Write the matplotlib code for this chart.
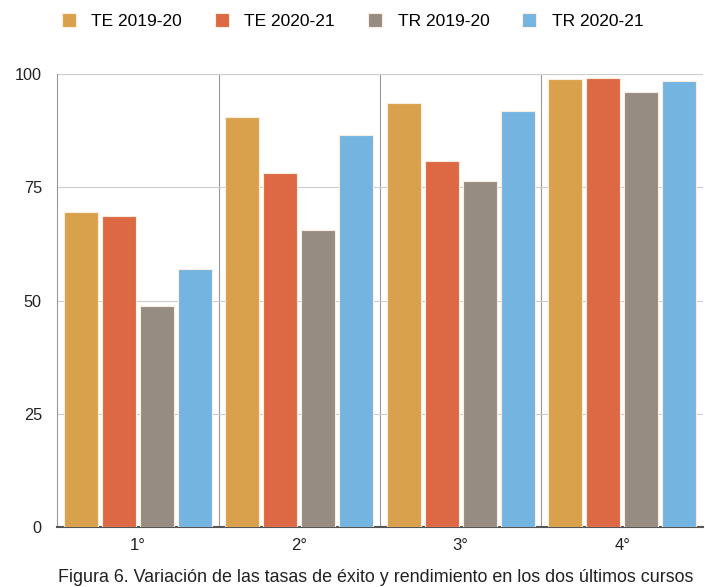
import matplotlib.pyplot as plt
import numpy as np

plt.rcParams['font.family'] = ['Liberation Sans', 'DejaVu Sans']

# datos
cursos = ['1°', '2°', '3°', '4°']
series = ['TE 2019-20', 'TE 2020-21', 'TR 2019-20', 'TR 2020-21']
te_1920 = [69.5, 90.5, 93.6, 98.9]
te_2021 = [68.6, 78.1, 80.8, 99.1]
tr_1920 = [48.8, 65.6, 76.4, 96.0]
tr_2021 = [57.0, 86.5, 91.8, 98.5]
colores = ['#D9A14C', '#DD6944', '#978C81', '#74B4E1']

valores = [te_1920, te_2021, tr_1920, tr_2021]

fig = plt.figure(figsize=(7.05, 5.87), dpi=100)
ax = fig.add_axes([0.081, 0.102, 0.916, 0.772])

x = np.arange(len(cursos))
ancho = 0.21
paso = 0.235
for i, (vals, nombre, c) in enumerate(zip(valores, series, colores)):
    ax.bar(x + (i - 1.5) * paso, vals, ancho, color=c, label=nombre,
           edgecolor='#fbeee0', linewidth=0.8, zorder=3)

ax.set_xlim(-0.5, 3.5)
ax.set_ylim(0, 100)
ax.set_yticks([0, 25, 50, 75, 100])
ax.set_xticks(x)
ax.set_xticklabels(cursos, fontsize=12, color='#222222')
ax.tick_params(axis='y', length=0, pad=11, labelsize=11.7, labelcolor='#222222')
ax.tick_params(axis='x', length=0, pad=8)
ax.grid(axis='y', color='#cccccc', linewidth=0.8, zorder=0)

# separadores verticales entre cursos
for b in [0.5, 1.5, 2.5]:
    ax.axvline(b, color='#999999', linewidth=0.8, zorder=1)

for s in ['top', 'right']:
    ax.spines[s].set_visible(False)
ax.spines['left'].set_color('#999999')
ax.spines['left'].set_linewidth(0.8)
ax.spines['bottom'].set_color('#555555')
ax.spines['bottom'].set_linewidth(1.5)

fig.legend(loc='center', bbox_to_anchor=(0.5, 0.964), ncol=4, frameon=False,
           fontsize=12.5, handlelength=0.8, handleheight=0.8, handletextpad=0.9,
           columnspacing=1.9)

fig.text(0.082, 0.008, 'Figura 6. Variación de las tasas de éxito y rendimiento en los dos últimos cursos',
         fontsize=12.9, color='#222222')

plt.savefig('out.png')
